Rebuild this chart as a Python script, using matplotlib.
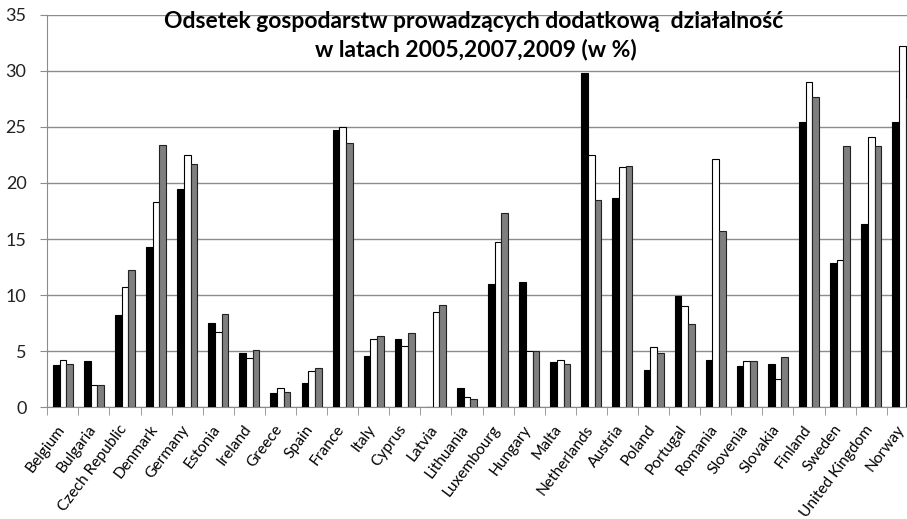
import matplotlib
matplotlib.use("Agg")
import matplotlib.pyplot as plt
import matplotlib.transforms as mtransforms
import numpy as np

countries = ["Belgium", "Bulgaria", "Czech Republic", "Denmark", "Germany", "Estonia",
             "Ireland", "Greece", "Spain", "France", "Italy", "Cyprus", "Latvia",
             "Lithuania", "Luxembourg", "Hungary", "Malta", "Netherlands", "Austria",
             "Poland", "Portugal", "Romania", "Slovenia", "Slovakia", "Finland",
             "Sweden", "United Kingdom", "Norway"]
y2005 = [3.8, 4.1, 8.2, 14.3, 19.5, 7.5, 4.8, 1.3, 2.2, 24.7, 4.6, 6.1, 0.0,
         1.7, 11.0, 11.2, 4.0, 29.8, 18.7, 3.3, 9.9, 4.2, 3.7, 3.9, 25.4,
         12.9, 16.3, 25.4]
y2007 = [4.2, 2.0, 10.7, 18.3, 22.5, 6.7, 4.4, 1.7, 3.2, 25.0, 6.1, 5.5, 8.5,
         0.9, 14.7, 5.0, 4.2, 22.5, 21.4, 5.4, 9.0, 22.1, 4.1, 2.5, 29.0,
         13.1, 24.1, 32.2]
y2009 = [3.9, 2.0, 12.2, 23.4, 21.7, 8.3, 5.1, 1.4, 3.5, 23.6, 6.4, 6.6, 9.1,
         0.7, 17.3, 5.0, 3.9, 18.5, 21.5, 4.8, 7.4, 15.7, 4.1, 4.5, 27.7,
         23.3, 23.3, 27.5]
title_lines = ["Odsetek gospodarstw prowadzących dodatkową  działalność",
               "w latach 2005,2007,2009 (w %)"]

plt.rcParams['font.family'] = ['Lato', 'DejaVu Sans']

fig = plt.figure(figsize=(9.07, 5.19), dpi=100)
ax = fig.add_axes([47.3 / 907, 111.7 / 519, 870.5 / 907, 392.6 / 519])

x = np.arange(len(countries))
w = 0.215
ax.bar(x - w, y2005, w, color='black', edgecolor='black', linewidth=0.8, zorder=3)
ax.bar(x, y2007, w, color='white', edgecolor='black', linewidth=0.8, zorder=3)
ax.bar(x + w, y2009, w, color='#7f7f7f', edgecolor='#222222', linewidth=0.8, zorder=3)

ax.set_xlim(-0.5, len(countries) - 0.5)
ax.set_ylim(0, 35)
ax.set_yticks(np.arange(0, 36, 5))
grid_c = '#8c8c8c'
ax.yaxis.grid(True, color=grid_c, linewidth=1, zorder=0)
for s in ['top', 'right']:
    ax.spines[s].set_visible(False)
ax.spines['left'].set_color(grid_c)
ax.spines['bottom'].set_color(grid_c)
ax.tick_params(axis='y', length=5, color=grid_c, labelsize=13, pad=10, labelcolor='#222222')

ax.set_xticks(x)
ax.set_xticklabels(countries, rotation=53, ha='right', va='center',
                   rotation_mode='anchor', fontsize=11.2)
ax.tick_params(axis='x', which='major', length=0, pad=14)
shift = mtransforms.ScaledTranslation(-1 / 100, 0, fig.dpi_scale_trans)
for lab in ax.get_xticklabels():
    lab.set_transform(lab.get_transform() + shift)
ax.set_xticks(np.arange(-0.5, len(countries), 1), minor=True)
ax.tick_params(axis='x', which='minor', length=6, color=grid_c)

fig.text(474 / 907, 1 - 11 / 519, title_lines[0], ha='center', va='top',
         fontsize=16.5, fontweight='bold')
fig.text(476 / 907, 1 - 39 / 519, title_lines[1], ha='center', va='top',
         fontsize=16.5, fontweight='bold')

fig.savefig("out.png", dpi=100)
